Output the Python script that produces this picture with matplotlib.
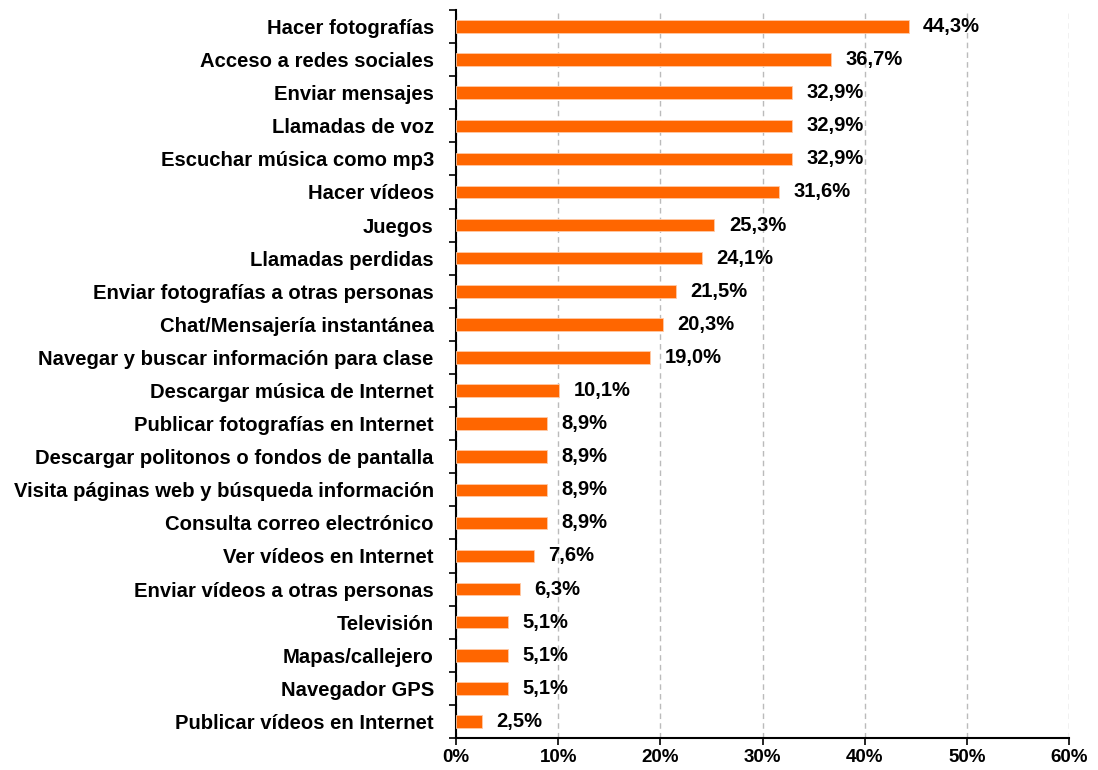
import numpy as np
import matplotlib.pyplot as plt
from matplotlib.ticker import FixedLocator, PercentFormatter

categories = [
    "Hacer fotografías",
    "Acceso a redes sociales",
    "Enviar mensajes",
    "Llamadas de voz",
    "Escuchar música como mp3",
    "Hacer vídeos",
    "Juegos",
    "Llamadas perdidas",
    "Enviar fotografías a otras personas",
    "Chat/Mensajería instantánea",
    "Navegar y buscar información para clase",
    "Descargar música de Internet",
    "Publicar fotografías en Internet",
    "Descargar politonos o fondos de pantalla",
    "Visita páginas web y búsqueda información",
    "Consulta correo electrónico",
    "Ver vídeos en Internet",
    "Enviar vídeos a otras personas",
    "Televisión",
    "Mapas/callejero",
    "Navegador GPS",
    "Publicar vídeos en Internet",
]
values = [44.3, 36.7, 32.9, 32.9, 32.9, 31.6, 25.3, 24.1, 21.5, 20.3, 19.0,
          10.1, 8.9, 8.9, 8.9, 8.9, 7.6, 6.3, 5.1, 5.1, 5.1, 2.5]
xticks = [0, 10, 20, 30, 40, 50, 60]

plt.rcParams['font.family'] = ['Liberation Sans', 'DejaVu Sans']
plt.rcParams['font.weight'] = 'bold'

fig = plt.figure(figsize=(10.98, 7.7), dpi=100)
ax = fig.add_axes([0.4153, 0.0416, 0.9736 - 0.4153, 0.987 - 0.0416])

y = np.arange(len(categories))
ax.barh(y, values, height=0.38, color='#FF6600', edgecolor='#FFC9A6',
        linewidth=0.6, zorder=3)

for yi, v in zip(y, values):
    ax.text(v + 1.4, yi, f"{v:.1f}%".replace('.', ','), va='center',
            ha='left', fontsize=14.5, fontweight='bold', zorder=4)

ax.set_ylim(len(categories) - 0.5, -0.5)
ax.set_xlim(0, 60)
ax.set_yticks(y)
ax.set_yticklabels(categories, fontsize=14.6, fontweight='bold')
ax.tick_params(axis='y', which='major', length=0, pad=16)
ax.yaxis.set_minor_locator(FixedLocator(np.arange(-0.5, len(categories), 1)))
ax.tick_params(axis='y', which='minor', length=5, width=1.2, direction='out')

ax.set_xticks(xticks)
ax.xaxis.set_major_formatter(PercentFormatter(decimals=0))
ax.tick_params(axis='x', length=5, width=1.2, direction='out', pad=3,
               labelsize=13.5)
for lab in ax.get_xticklabels():
    lab.set_fontweight('bold')

ax.grid(axis='x', linestyle=(0, (4, 3)), color='#BBBBBB', linewidth=1, zorder=0)
ax.spines['top'].set_visible(False)
ax.spines['right'].set_visible(False)
ax.spines['left'].set_linewidth(1.5)
ax.spines['bottom'].set_linewidth(1.5)

fig.savefig('out.png', dpi=100)
